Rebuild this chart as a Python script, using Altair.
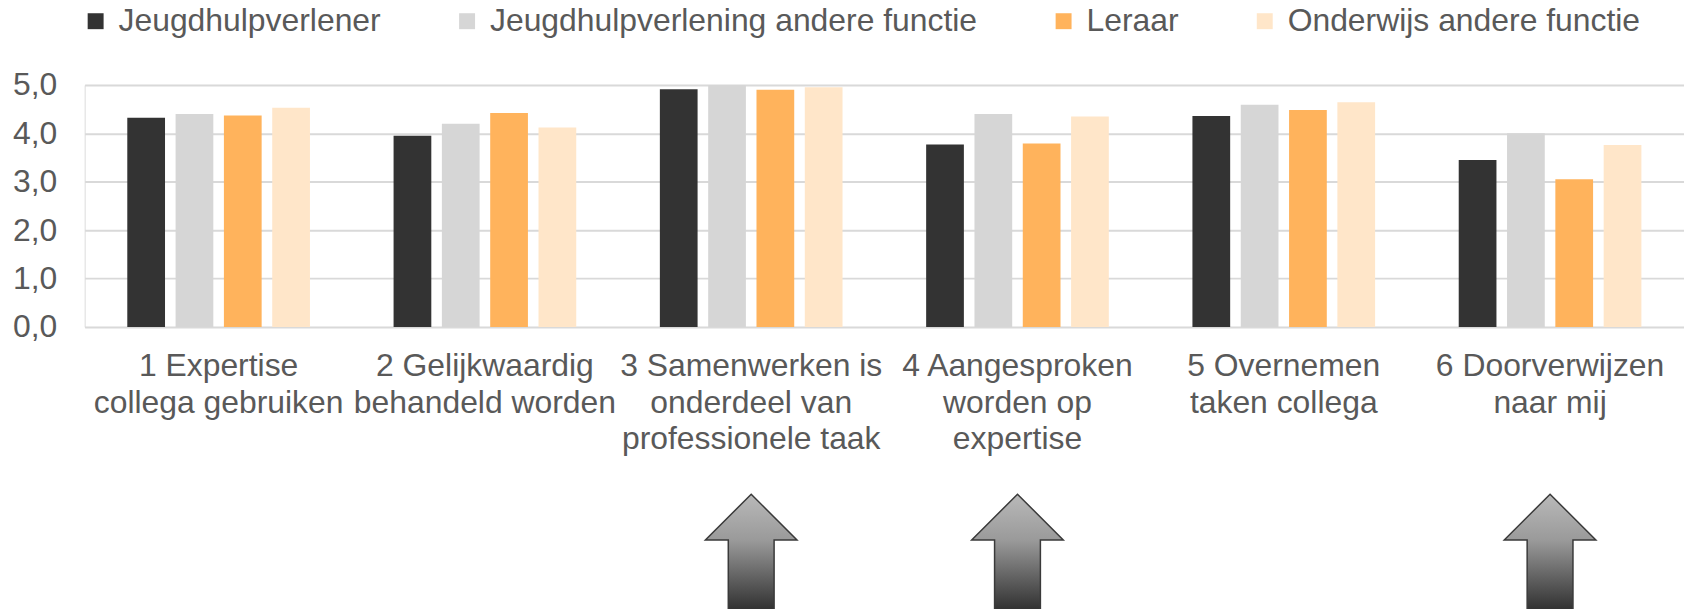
import altair as alt
import pandas as pd

# ---- data ----
categories = [
    "1 Expertise\ncollega gebruiken",
    "2 Gelijkwaardig\nbehandeld worden",
    "3 Samenwerken is\nonderdeel van\nprofessionele taak",
    "4 Aangesproken\nworden op\nexpertise",
    "5 Overnemen\ntaken collega",
    "6 Doorverwijzen\nnaar mij",
]
series = [
    "Jeugdhulpverlener",
    "Jeugdhulpverlening andere functie",
    "Leraar",
    "Onderwijs andere functie",
]
jeugdhulpverlener = [4.32, 3.95, 4.91, 3.77, 4.36, 3.45]
jeugdhulp_andere = [4.40, 4.20, 5.00, 4.40, 4.59, 4.00]
leraar = [4.37, 4.42, 4.90, 3.79, 4.48, 3.05]
onderwijs_andere = [4.53, 4.12, 4.95, 4.35, 4.64, 3.76]
y_ticks = [0, 1, 2, 3, 4, 5]
# categories marked with an arrow below the chart
arrow_categories = [categories[2], categories[3], categories[5]]

colors = ["#333333", "#d6d6d6", "#ffb35c", "#ffe6c9"]

rows = []
for s, vals in zip(series, [jeugdhulpverlener, jeugdhulp_andere, leraar, onderwijs_andere]):
    for c, v in zip(categories, vals):
        rows.append({"categorie": c, "reeks": s, "waarde": v})
df = pd.DataFrame(rows)
arrows_df = pd.DataFrame({"categorie": arrow_categories})

FONT = "Liberation Sans"
TXT = "#595959"

x_scale = alt.Scale(domain=categories, paddingInner=0.314, paddingOuter=0.16)

bars = alt.Chart(df).mark_bar().encode(
    x=alt.X(
        "categorie:N",
        scale=x_scale,
        title=None,
        axis=alt.Axis(
            labelAngle=0,
            labelExpr="split(datum.label, '\\n')",
            labelFontSize=32,
            labelLineHeight=36.5,
            labelColor=TXT,
            labelFont=FONT,
            labelPadding=24,
            labelBaseline="top",
            labelLimit=1000,
            ticks=False,
            domain=False,
            grid=False,
        ),
    ),
    xOffset=alt.XOffset(
        "reeks:N", scale=alt.Scale(domain=series, paddingInner=0.219, paddingOuter=0)
    ),
    y=alt.Y(
        "waarde:Q",
        scale=alt.Scale(domain=[0, 5], nice=False),
        title=None,
        axis=alt.Axis(
            values=y_ticks,
            labelExpr="replace(format(datum.value, '.1f'), '.', ',')",
            labelFontSize=32,
            labelColor=TXT,
            labelFont=FONT,
            labelPadding=28,
            ticks=False,
            domain=False,
            grid=True,
            gridColor="#d9d9d9",
            gridWidth=2,
        ),
    ),
    color=alt.Color(
        "reeks:N",
        scale=alt.Scale(domain=series, range=colors),
        title=None,
        legend=alt.Legend(
            orient="none",
            legendX=-5,
            legendY=-80,
            direction="horizontal",
            symbolType="square",
            symbolSize=256,
            symbolStrokeWidth=0,
            labelFontSize=32,
            labelFont=FONT,
            labelColor=TXT,
            labelOffset=7,
            labelLimit=1000,
            columnPadding=70,
            padding=0,
        ),
    ),
)

arrow_path = "M0,-1 L1,0 L0.5,0 L0.5,3 L-0.5,3 L-0.5,0 L-1,0 Z"
gradient = alt.LinearGradient(
    gradient="linear",
    x1=0, y1=0, x2=0, y2=1,
    stops=[
        alt.GradientStop(color="#b9b9b9", offset=0),
        alt.GradientStop(color="#9a9a9a", offset=0.25),
        alt.GradientStop(color="#343434", offset=0.62),
        alt.GradientStop(color="#333333", offset=1),
    ],
)

arrows = alt.Chart(arrows_df).mark_point(
    shape=arrow_path,
    size=8464,
    filled=True,
    fill=gradient,
    stroke="#3a3a3a",
    strokeWidth=1.5,
    opacity=1,
).encode(
    x=alt.X("categorie:N", scale=x_scale),
    y=alt.value(457),
)

chart = (
    alt.layer(bars, arrows)
    .properties(
        width=1606,
        height=243,
        autosize=alt.AutoSizeParams(type="none"),
        padding={"left": 77, "top": 76, "right": 0, "bottom": 282},
    )
    .configure_view(stroke=None)
    .configure(font=FONT)
)

chart.save("out.html", embed_options={"renderer": "svg", "actions": False})
